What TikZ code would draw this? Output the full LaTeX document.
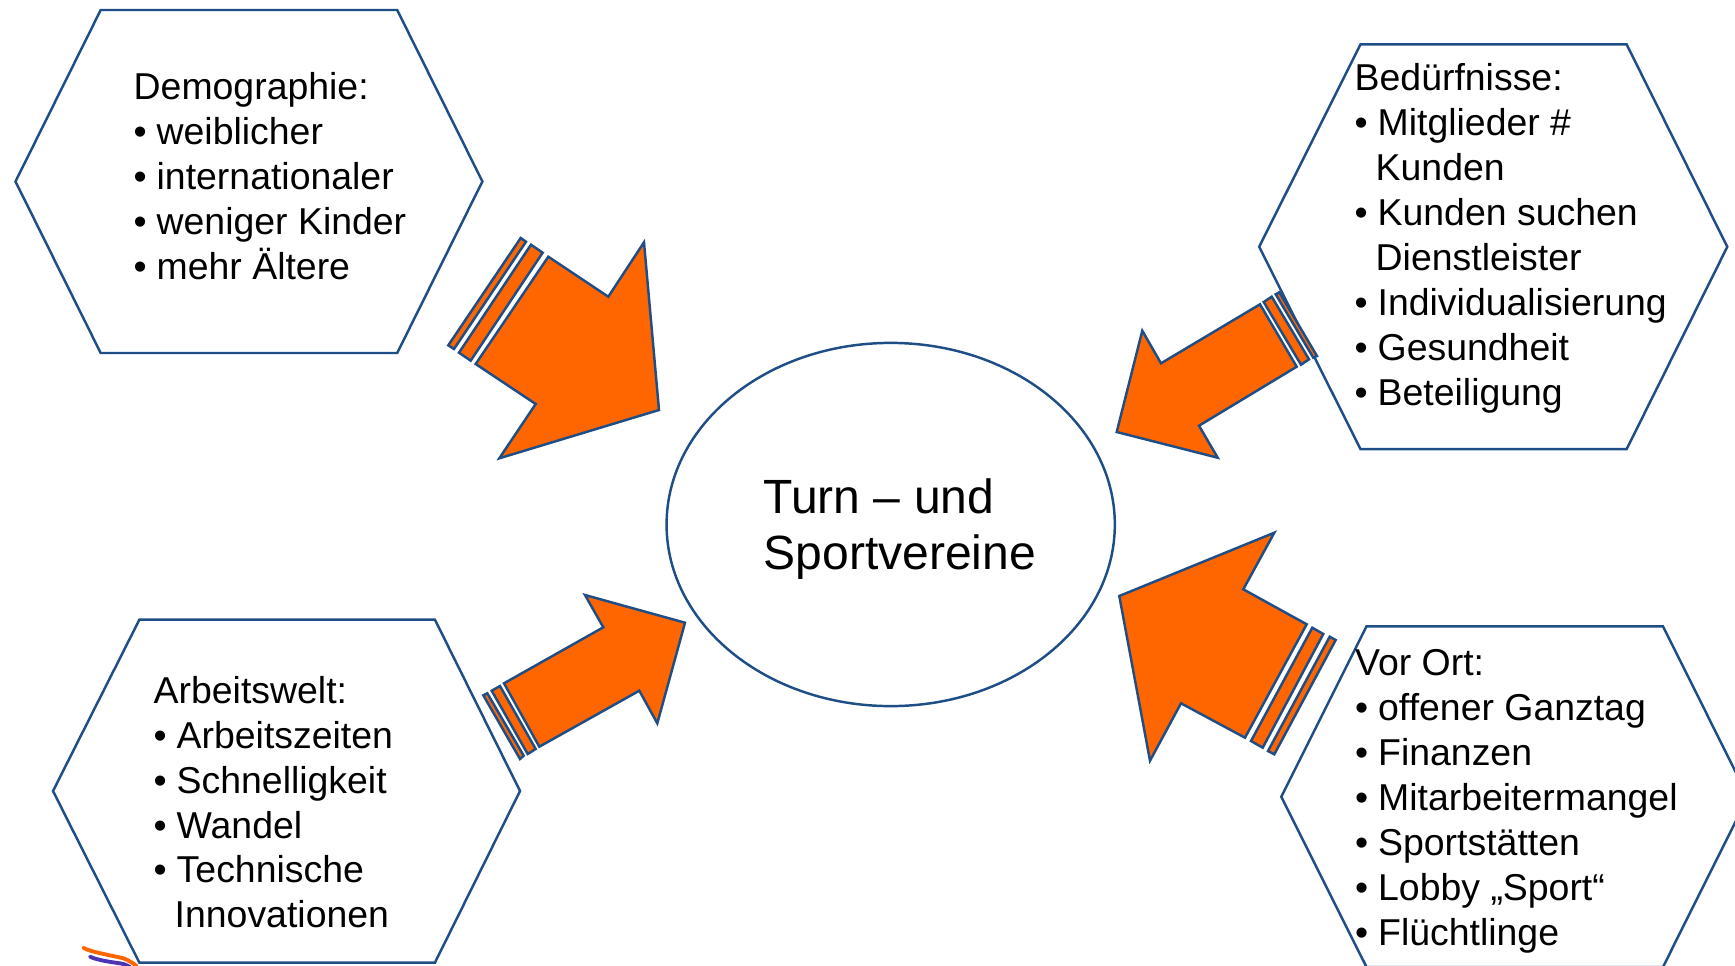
\documentclass[tikz,border=0pt]{standalone}
\usepackage{fontspec}
\usetikzlibrary{shapes.geometric}
\setmainfont{Liberation Sans}
\newcommand{\bul}{\makebox[0.23cm][l]{•}}
\newcommand{\ind}{\hspace*{0.21cm}}

\begin{document}
\begin{tikzpicture}[x=0.01cm,y=-0.01cm]

    % Set the canvas size
    \useasboundingbox (0,0) rectangle (1735,966);
    \clip (0,0) rectangle (1735,966);

    % Define styles
    \definecolor{lineblue}{HTML}{1F4E87}
    \definecolor{arroworange}{HTML}{FF6600}
    \definecolor{swooshviolet}{HTML}{4A35B5}
    \tikzset{
        hexa/.style={draw=lineblue, line width=0.7pt},
        blockarrow/.style={draw=lineblue, fill=arroworange, line width=0.7pt, line join=miter},
        listtext/.style={anchor=north west, inner sep=0pt, align=left, font=\fontsize{10.64}{12.77}\selectfont},
        swoosh/.style={line width=1.1pt, line cap=round},
    }

    % Hexagons
    \draw[hexa] (15.5,181.5) -- (100.7,10) -- (397.2,10) -- (482.4,181.5) -- (397.2,353) -- (100.7,353) -- cycle;
    \draw[hexa] (1259.2,246.8) -- (1360.5,44.3) -- (1626.6,44.3) -- (1727.3,246.8) -- (1626.6,449.2) -- (1360.5,449.2) -- cycle;
    \draw[hexa] (53,791) -- (139.4,619.6) -- (434.9,619.6) -- (520,791) -- (434.9,962.7) -- (139.4,962.7) -- cycle;
    \draw[hexa] (1281.3,796.7) -- (1366.5,626.3) -- (1663,626.3) -- (1748,796.7) -- (1663,967) -- (1366.5,967) -- cycle;

    % Centre ellipse
    \node[draw=lineblue, line width=0.7pt, ellipse, inner sep=0pt, minimum width=4.48cm, minimum height=3.63cm] (centre) at (890.7,524.5) {};
    \node[anchor=north west, inner sep=0pt, align=left, font=\fontsize{13.66}{16.2}\selectfont] (centretext) at (763,477.5) {Turn – und\\Sportvereine};

    % Upper left arrow
    \filldraw[blockarrow] (548.3,256.7) -- (608.3,296.7) -- (644,242.3) -- (659,410) -- (499.3,458.3) -- (535.7,404) -- (475.7,364) -- cycle;
    \filldraw[blockarrow] (531,244.7) -- (542.7,252.7) -- (470.7,360.7) -- (459,352.7) -- cycle;
    \filldraw[blockarrow] (520.7,238) -- (526,241.7) -- (454,349) -- (448.3,345.3) -- cycle;

    % Upper right arrow
    \filldraw[blockarrow] (1260,304.3) -- (1296.7,366.7) -- (1199,425.7) -- (1217.7,457.7) -- (1116.7,432) -- (1142.3,330.7) -- (1161,363.3) -- cycle;
    \filldraw[blockarrow] (1271.7,296.7) -- (1309,359.3) -- (1301,364.7) -- (1263.7,302) -- cycle;
    \filldraw[blockarrow] (1279.3,292.3) -- (1317,356) -- (1313.3,357.7) -- (1275.7,294.3) -- cycle;

    % Lower right arrow
    \filldraw[blockarrow] (1306.7,624.3) -- (1245,737.7) -- (1181,703.3) -- (1150,760.7) -- (1119.3,596) -- (1274.3,532.7) -- (1243.3,589.3) -- cycle;
    \filldraw[blockarrow] (1312.3,627.7) -- (1323.3,634) -- (1262.7,747.7) -- (1251,741) -- cycle;
    \filldraw[blockarrow] (1329.7,636.7) -- (1335.7,640) -- (1274.3,754.3) -- (1268,751) -- cycle;

    % Lower left arrow
    \filldraw[blockarrow] (504,683.3) -- (603.3,627.3) -- (585,595) -- (685,622.7) -- (657.3,723.3) -- (639.3,690.7) -- (539.3,746.7) -- cycle;
    \filldraw[blockarrow] (500,686) -- (535.7,749) -- (527.7,754) -- (491.7,690.7) -- cycle;
    \filldraw[blockarrow] (487.3,693.3) -- (523.7,755.7) -- (520,759) -- (483.3,695.3) -- cycle;

    % Lists
    \node[listtext] (demotext) at (133,72) {Demographie:\\\bul weiblicher\\\bul internationaler\\\bul weniger Kinder\\\bul mehr Ältere};
    \node[listtext] (needtext) at (1354,63) {Bedürfnisse:\\\bul Mitglieder \#\\\ind Kunden\\\bul Kunden suchen\\\ind Dienstleister\\\bul Individualisierung\\\bul Gesundheit\\\bul Beteiligung};
    \node[listtext] (worktext) at (153,675.5) {Arbeitswelt:\\\bul Arbeitszeiten\\\bul Schnelligkeit\\\bul Wandel\\\bul Technische\\\ind Innovationen};
    \node[listtext] (localtext) at (1354.5,649) {Vor Ort:\\\bul offener Ganztag\\\bul Finanzen\\\bul Mitarbeitermangel\\\bul Sportstätten\\\bul Lobby „Sport“\\\bul Flüchtlinge};

    % Logo remnant in the corner
    \draw[swoosh, color=arroworange] (83.3,947.7) .. controls (90,952) and (110,955) .. (123.3,958.3) .. controls (128,960) and (133,963) .. (136.7,966);
    \draw[swoosh, color=swooshviolet] (90,956.7) .. controls (97,960) and (110,962) .. (120,963.3) .. controls (124,964) and (127,965) .. (130,967);

\end{tikzpicture}
\end{document}
